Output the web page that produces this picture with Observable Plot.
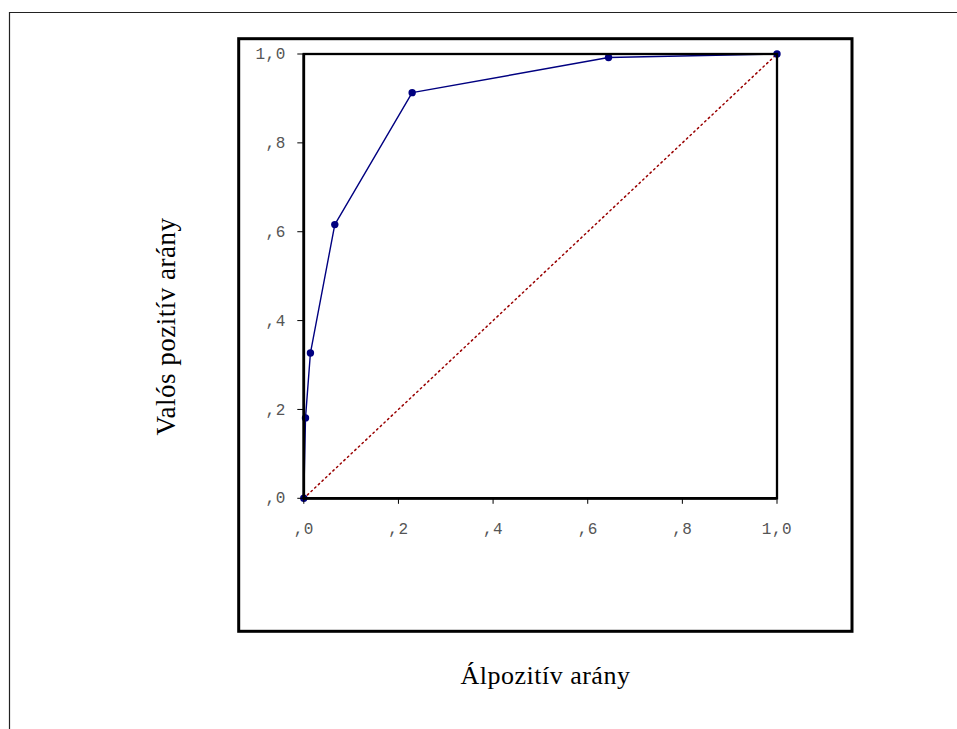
<!DOCTYPE html>
<html>
<head>
<meta charset="utf-8">
<script src="https://cdn.jsdelivr.net/npm/d3@7"></script>
<script src="https://cdn.jsdelivr.net/npm/@observablehq/plot@0.6"></script>
<style>
  html, body { margin: 0; padding: 0; background: #fff; }
  #chart { position: relative; width: 957px; height: 729px; }
</style>
</head>
<body>
<div id="chart"></div>
<script>
// ROC curve points (false positive rate, true positive rate)
const fpr = [0, 0.0036, 0.014, 0.0655, 0.229, 0.644, 1.0];
const tpr = [0, 0.181, 0.327, 0.616, 0.913, 0.992, 1.0];
// reference diagonal
const diagX = [0, 1];
const diagY = [0, 1];
// tick values and labels
const tickValues = [0, 0.2, 0.4, 0.6, 0.8, 1.0];
const tickLabels = [",0", ",2", ",4", ",6", ",8", "1,0"];
const xTitle = "Álpozitív arány";
const yTitle = "Valós pozitív arány";

const curve = fpr.map((x, i) => ({x, y: tpr[i]}));
const diag = diagX.map((x, i) => ({x, y: diagY[i]}));
const fmt = d => tickLabels[tickValues.findIndex(v => Math.abs(v - d) < 1e-9)];

const W = 957, H = 729;
const mL = 303.3, mR = W - 776.5, mT = 53.5, mB = H - 497.8;
const frameCY = (mT + (H - mB)) / 2;

const plot = Plot.plot({
  width: W,
  height: H,
  marginLeft: mL,
  marginRight: mR,
  marginTop: mT,
  marginBottom: mB,
  style: {fontFamily: "'Liberation Mono', 'Courier New', monospace", fontSize: "16px", background: "white", color: "black", letterSpacing: "0.5px"},
  x: {domain: [0, 1]},
  y: {domain: [0, 1]},
  marks: [
    Plot.line(diag, {x: "x", y: "y", stroke: "#990000", strokeWidth: 1.5, strokeDasharray: "1.5,3.5"}),
    Plot.line(curve, {x: "x", y: "y", stroke: "#000080", strokeWidth: 1.4}),
    Plot.dot(curve, {x: "x", y: "y", r: 3.7, fill: "#000080", stroke: null}),
    Plot.frame({stroke: "black", strokeWidth: 2.3}),
    Plot.ruleX([0], {stroke: "black", strokeWidth: 2.7}),
    Plot.ruleY([0], {stroke: "black", strokeWidth: 2.7}),
    Plot.axisX({ticks: tickValues, tickFormat: fmt, tickSize: 6, tickPadding: 18, stroke: "black", fill: "#555", label: null}),
    Plot.axisY({ticks: tickValues, tickFormat: fmt, tickSize: 6, tickPadding: 12, stroke: "black", fill: "#555", label: null}),
    Plot.text([yTitle], {text: d => d, frameAnchor: "left", dx: 166 - mL, dy: 326 - frameCY, rotate: -90, textAnchor: "middle", lineAnchor: "middle",
      fontFamily: "'Liberation Serif', 'Times New Roman', serif", fontSize: 27, fill: "black", letterSpacing: "0px"}),
    Plot.text([xTitle], {text: d => d, frameAnchor: "bottom", dx: 5, dy: 675 - 497.8, textAnchor: "middle", lineAnchor: "middle",
      fontFamily: "'Liberation Serif', 'Times New Roman', serif", fontSize: 26, fill: "black", letterSpacing: "0px"})
  ]
});

// decorative borders (outer page border and chart box)
const svg = d3.select(plot);
svg.insert("path", ":first-child")
  .attr("d", `M9.5,${H} V12.5 H${W}`)
  .attr("fill", "none").attr("stroke", "#222").attr("stroke-width", 1.2);
svg.insert("rect", ":first-child")
  .attr("x", 238.7).attr("y", 38.7).attr("width", 852 - 238.7).attr("height", 631.3 - 38.7)
  .attr("fill", "none").attr("stroke", "black").attr("stroke-width", 3);

document.getElementById("chart").appendChild(plot);
</script>
</body>
</html>
